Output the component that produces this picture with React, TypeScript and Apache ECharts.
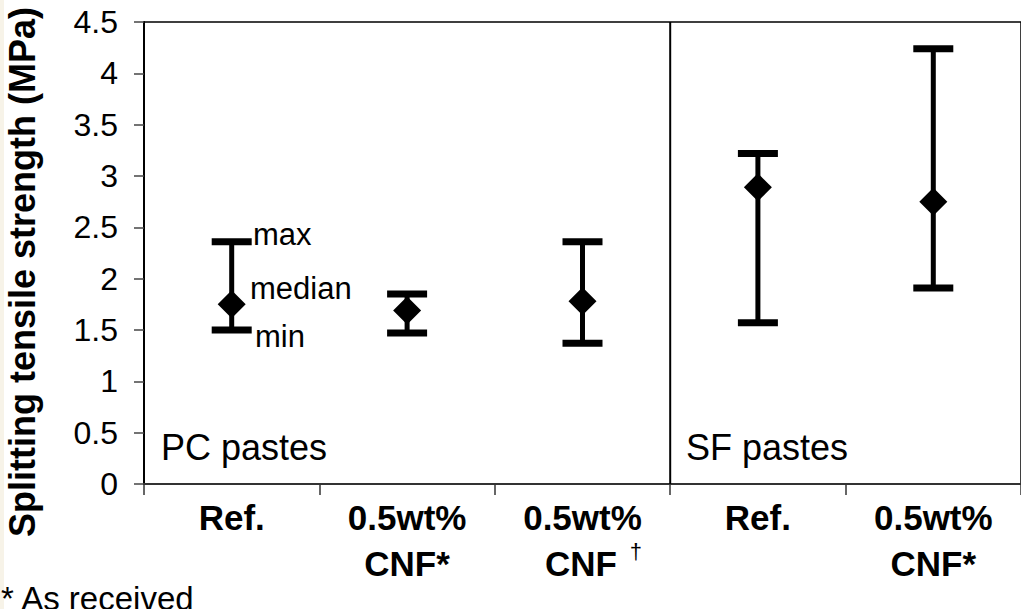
import React, { useEffect, useRef } from "react";
import * as echarts from "echarts";

const categories = ["Ref.", "0.5wt%\nCNF*", "0.5wt%\n{gap|}CNF{sup|†}", "Ref.", "0.5wt%\nCNF*"];
const maxValues = [2.36, 1.85, 2.36, 3.22, 4.24];
const medianValues = [1.75, 1.69, 1.78, 2.89, 2.75];
const minValues = [1.5, 1.47, 1.37, 1.57, 1.91];
const yMin = 0;
const yMax = 4.5;
const yInterval = 0.5;
const groupBoundary = 3;
const yTitle = "Splitting tensile strength (MPa)";
const groupLabels = ["PC pastes", "SF pastes"];
const legendLabels = ["max", "median", "min"];
const footnote = "* As received";

export default function App() {
  const ref = useRef<HTMLDivElement>(null);
  useEffect(() => {
    if (!ref.current) return;
    const chart = echarts.init(ref.current, null, { renderer: "svg" });
    const font = "Arial, 'Liberation Sans', sans-serif";
    chart.setOption({
      animation: false,
      backgroundColor: "#fff",
      grid: {
        left: 144,
        top: 22,
        width: 886,
        height: 462,
        show: true,
        borderColor: "#000",
        borderWidth: 1.5,
        backgroundColor: "transparent",
      },
      xAxis: [
        {
          type: "category",
          data: categories,
          boundaryGap: true,
          axisLine: { show: true, lineStyle: { color: "#333", width: 2 } },
          axisTick: { show: true, alignWithLabel: false, length: 11, lineStyle: { color: "#333", width: 1.5 } },
          axisLabel: {
            fontSize: 35,
            fontWeight: "bold",
            color: "#000",
            fontFamily: font,
            lineHeight: 46,
            margin: 10,
            interval: 0,
            rich: {
              gap: { width: 22, fontSize: 35 },
              sup: { fontSize: 22, fontWeight: "normal", verticalAlign: "top", padding: [0, 0, 40, 13], fontFamily: font, color: "#000" },
            },
          },
          splitLine: { show: false },
        },
        { type: "value", min: 0, max: categories.length, show: false },
      ],
      yAxis: {
        type: "value",
        min: yMin,
        max: yMax,
        interval: yInterval,
        axisLine: { show: true, lineStyle: { color: "#000", width: 2 } },
        axisTick: { show: true, inside: false, length: 10, lineStyle: { color: "#444", width: 1.5 } },
        axisLabel: { fontSize: 32, color: "#000", fontFamily: font, margin: 26 },
        splitLine: { show: false },
      },
      series: [
        {
          type: "line",
          xAxisIndex: 1,
          data: [[groupBoundary, yMin], [groupBoundary, yMax]],
          symbol: "none",
          lineStyle: { color: "#000", width: 2 },
          z: 1,
        },
        {
          type: "custom",
          data: categories.map((_, i) => [i, maxValues[i], minValues[i]]),
          renderItem: (params: any, api: any) => {
            const i = api.value(0);
            const hi = api.coord([i, api.value(1)]);
            const lo = api.coord([i, api.value(2)]);
            const x = hi[0];
            return {
              type: "group",
              children: [
                { type: "line", shape: { x1: x, y1: hi[1], x2: x, y2: lo[1] }, style: { stroke: "#000", lineWidth: 5 } },
                { type: "rect", shape: { x: x - 20, y: hi[1] - 3.5, width: 40, height: 7 }, style: { fill: "#000" } },
                { type: "rect", shape: { x: x - 20, y: lo[1] - 3.5, width: 40, height: 7 }, style: { fill: "#000" } },
              ],
            };
          },
          z: 2,
        },
        {
          type: "scatter",
          data: medianValues,
          symbol: "diamond",
          symbolSize: 28,
          itemStyle: { color: "#000", opacity: 1 },
          z: 3,
        },
      ],
      graphic: [
        { type: "rect", left: 0, top: 0, shape: { width: 4, height: 609 }, style: { fill: "#f7f3e8" } },
        {
          type: "text",
          x: 22,
          y: 272,
          rotation: Math.PI / 2,
          style: { text: yTitle, font: `bold 36px ${font}`, fill: "#000", textAlign: "center", textVerticalAlign: "middle" },
        },
        { type: "text", x: 161, y: 447, style: { text: groupLabels[0], font: `36px ${font}`, fill: "#000", textVerticalAlign: "middle" } },
        { type: "text", x: 686, y: 447, style: { text: groupLabels[1], font: `36px ${font}`, fill: "#000", textVerticalAlign: "middle" } },
        { type: "text", x: 253, y: 234, style: { text: legendLabels[0], font: `31px ${font}`, fill: "#000", textVerticalAlign: "middle" } },
        { type: "text", x: 250, y: 288, style: { text: legendLabels[1], font: `31px ${font}`, fill: "#000", textVerticalAlign: "middle" } },
        { type: "text", x: 255, y: 336, style: { text: legendLabels[2], font: `31px ${font}`, fill: "#000", textVerticalAlign: "middle" } },
        { type: "text", x: 1, y: 598, style: { text: footnote, font: `33px ${font}`, fill: "#000", textVerticalAlign: "middle" } },
      ],
    });
    return () => chart.dispose();
  }, []);
  return <div ref={ref} style={{ position: "fixed", left: 0, top: 0, width: 1021, height: 609 }} />;
}
